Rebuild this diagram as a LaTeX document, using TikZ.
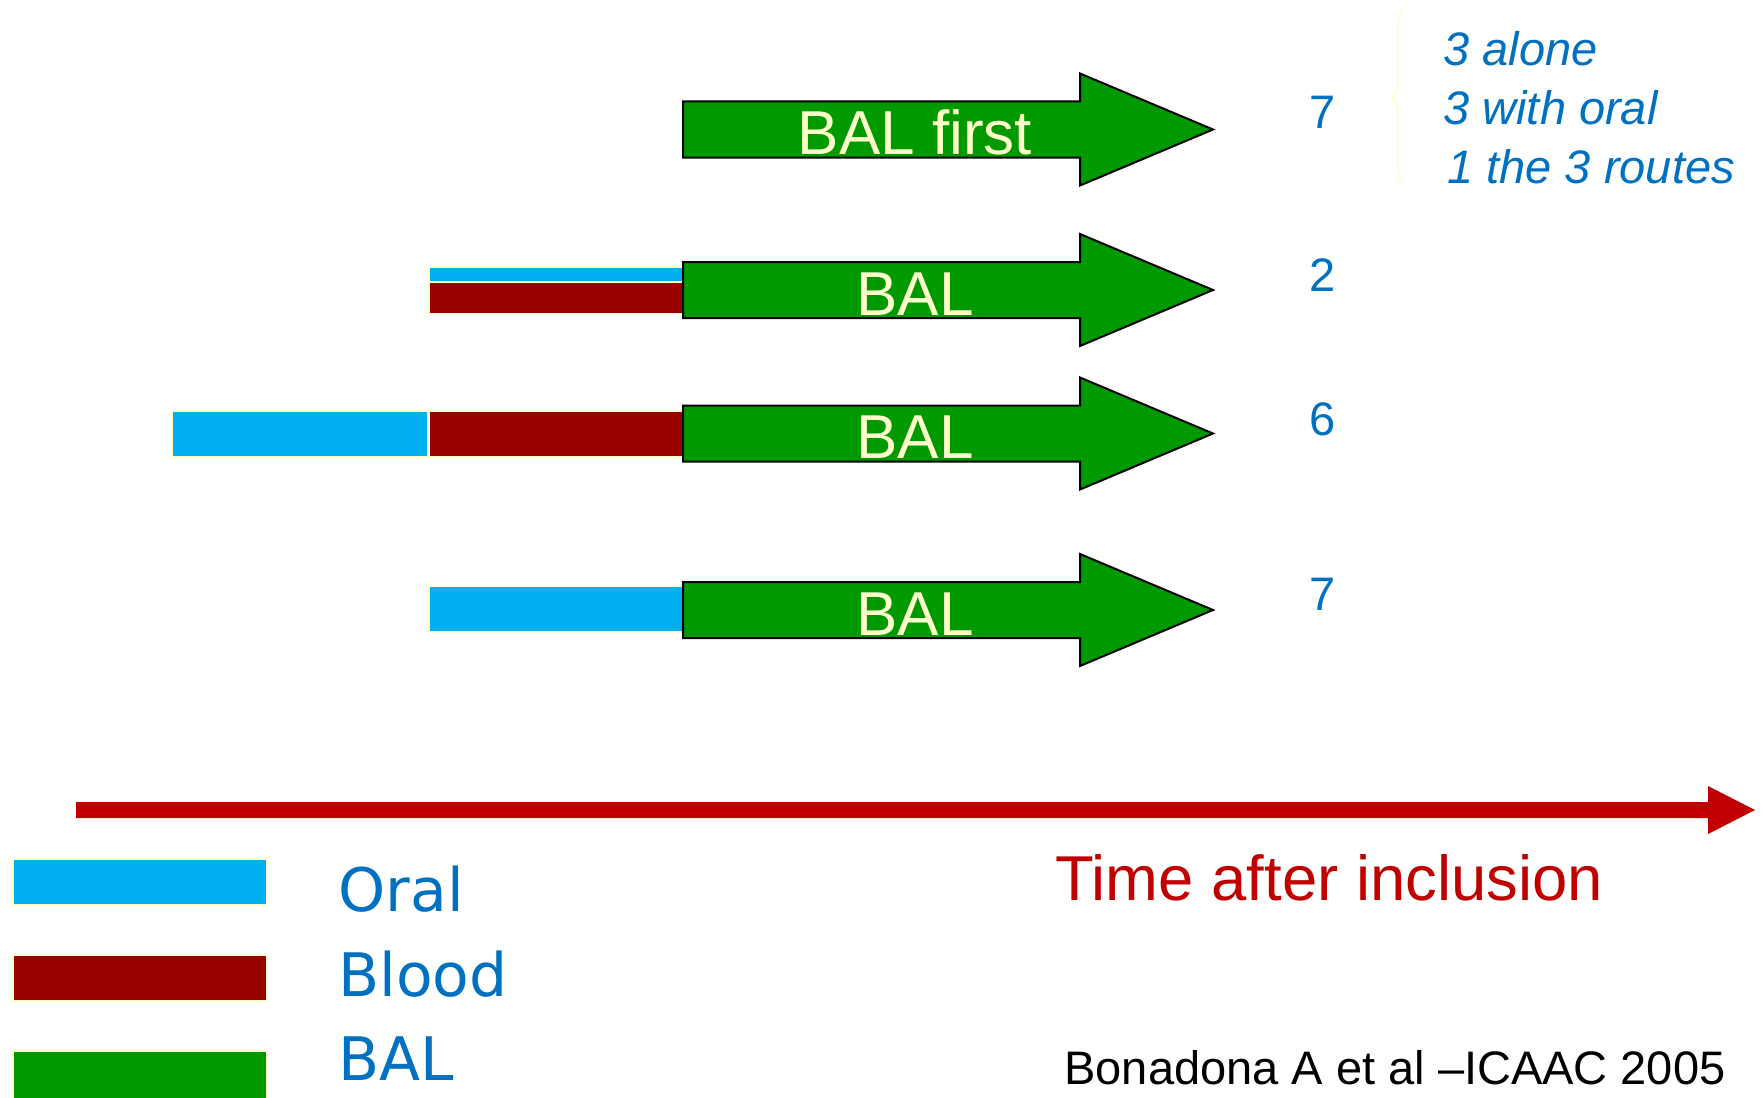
\documentclass[tikz,border=0pt]{standalone}
\usepackage{fontspec}
\setmainfont{Liberation Sans}
\newfontfamily\legendfont{DejaVu Sans}
\usetikzlibrary{decorations.pathreplacing}
\definecolor{balgreen}{HTML}{009900}
\definecolor{oralcyan}{HTML}{00B0F0}
\definecolor{bloodred}{HTML}{990000}
\definecolor{timered}{HTML}{C00000}
\definecolor{paleyellow}{HTML}{FFFFCC}
\definecolor{textblue}{HTML}{0070C0}
\begin{document}
\begin{tikzpicture}[x=0.5pt,y=-0.5pt,
  barbox/.style={draw=paleyellow, line width=0.6pt},
  blockarrow/.style={fill=balgreen, draw=black, line width=1pt, line join=miter},
  arrowlabel/.style={text=paleyellow, font=\fontsize{31}{37}\selectfont, inner sep=0pt, anchor=base},
  countlabel/.style={text=textblue, font=\fontsize{23.5}{28}\selectfont, inner sep=0pt, anchor=base},
  listlabel/.style={text=textblue, font=\fontsize{23.5}{28}\selectfont\itshape, inner sep=0pt, anchor=base west},
  legendlabel/.style={text=textblue, font=\legendfont\fontsize{30}{35}\selectfont, inner sep=0pt, anchor=base west}]
\useasboundingbox (0,0) rectangle (1764,1097);
\fill[white] (0,0) rectangle (1764,1097);

% bars before arrows
\draw[barbox, fill=oralcyan] (429,267) rectangle (683,281.5);
\draw[barbox, fill=bloodred] (429,282.5) rectangle (683,313.5);
\draw[barbox, fill=oralcyan] (172,411) rectangle (428,457);
\draw[barbox, fill=bloodred] (429,411) rectangle (683,457);
\draw[barbox, fill=oralcyan] (429,586) rectangle (683,632);

% block arrows
\foreach \c in {129.5,290,433.5,610}{
  \draw[blockarrow] (683,{\c-28}) -- (1080,{\c-28}) -- (1080,{\c-56}) -- (1213,\c)
    -- (1080,{\c+56}) -- (1080,{\c+28}) -- (683,{\c+28}) -- cycle;
}
\node[arrowlabel] (l1) at (915,154.5) {BAL first};
\node[arrowlabel] (l2) at (915,315) {BAL};
\node[arrowlabel] (l3) at (915,458.5) {BAL};
\node[arrowlabel] (l4) at (915,635) {BAL};

% counts
\node[countlabel] (n1) at (1323,128) {7};
\node[countlabel] (n2) at (1323,291) {2};
\node[countlabel] (n3) at (1323,435) {6};
\node[countlabel] (n4) at (1323,610) {7};

% brace and breakdown
\draw[paleyellow, line width=0.8pt, decorate, decoration={brace, amplitude=7pt}] (1405,185) -- (1405,10);
\node[listlabel] (b1) at (1443,66) {3 alone};
\node[listlabel] (b2) at (1443,125) {3 with oral};
\node[listlabel] (b3) at (1447,183) {1 the 3 routes};

% time arrow
\fill[timered] (76,802) -- (1708,802) -- (1708,786) -- (1755,810) -- (1708,834) -- (1708,818) -- (76,818) -- cycle;
\node[text=timered, font=\fontsize{31.7}{38}\selectfont, inner sep=0pt, anchor=base west] (time) at (1055,900) {Time after inclusion};

% legend
\draw[barbox, fill=oralcyan] (13,859) rectangle (267,905);
\draw[barbox, fill=bloodred] (13,955) rectangle (267,1001);
\draw[barbox, fill=balgreen] (13,1051) rectangle (267,1100);
\node[legendlabel] (lo) at (338,911) {Oral};
\node[legendlabel] (lb) at (338,996) {Blood};
\node[legendlabel] (lg) at (338,1080) {BAL};

% citation
\node[font=\fontsize{23.5}{28}\selectfont, inner sep=0pt, anchor=base west] (cite) at (1064,1084) {Bonadona A et al –ICAAC 2005};
\end{tikzpicture}
\end{document}
